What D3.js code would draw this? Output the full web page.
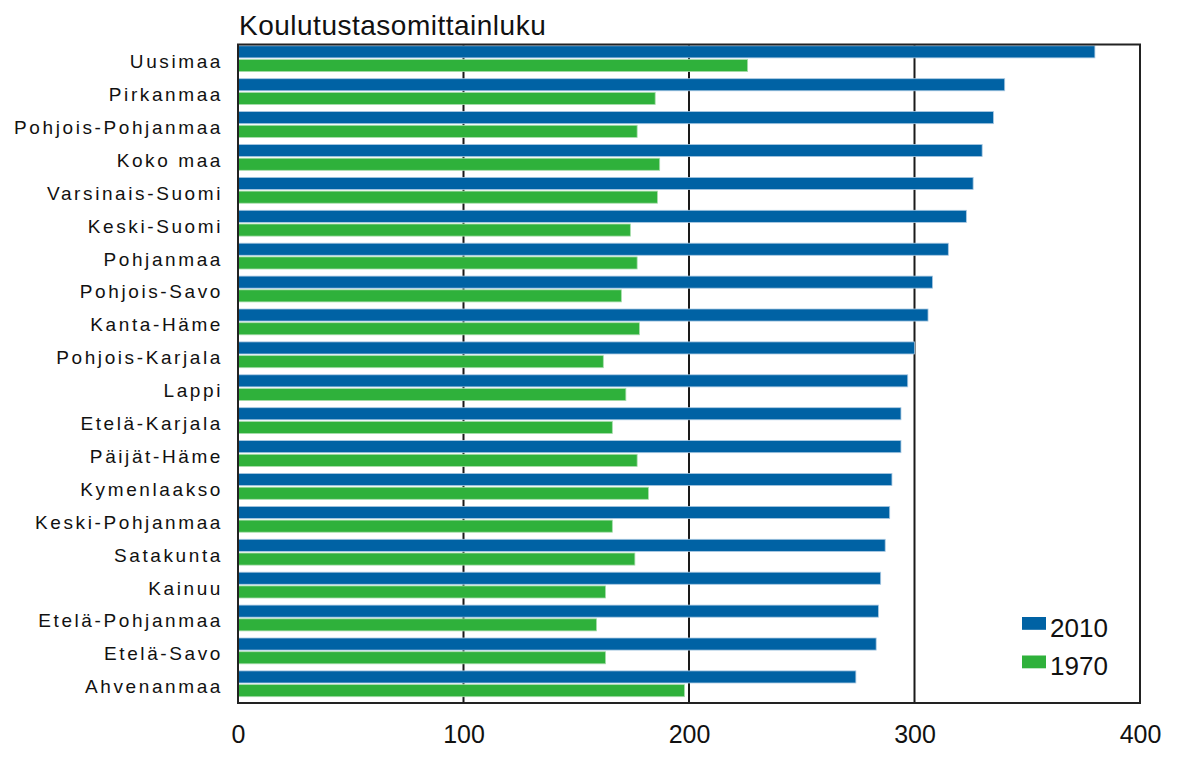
<!DOCTYPE html>
<html>
<head>
<meta charset="utf-8">
<script src="https://cdn.jsdelivr.net/npm/d3@7"></script>
<style>
  html, body { margin: 0; padding: 0; background: #fff; }
  svg { display: block; }
  text { font-family: "Liberation Sans", Arial, sans-serif; fill: #111; }
</style>
</head>
<body>
<svg id="chart" width="1177" height="757"></svg>
<script>
const categories = ["Uusimaa","Pirkanmaa","Pohjois-Pohjanmaa","Koko maa","Varsinais-Suomi","Keski-Suomi","Pohjanmaa","Pohjois-Savo","Kanta-Häme","Pohjois-Karjala","Lappi","Etelä-Karjala","Päijät-Häme","Kymenlaakso","Keski-Pohjanmaa","Satakunta","Kainuu","Etelä-Pohjanmaa","Etelä-Savo","Ahvenanmaa"];
const values2010 = [380,340,335,330,326,323,315,308,306,300,297,294,294,290,289,287,285,284,283,274];
const values1970 = [226,185,177,187,186,174,177,170,178,162,172,166,177,182,166,176,163,159,163,198];
const seriesNames = ["2010","1970"];
const xTicks = [0,100,200,300,400];
const gridTicks = [100,200,300];
const titleText = "Koulutustasomittainluku";

const colors = { "2010": "#0062a4", "1970": "#2fb13b" };
const strokes = { "2010": "#a9c8e2", "1970": "#a8dcac" };

const svg = d3.select("#chart");
const pLeft = 238, pRight = 1140, pTop = 44.5, pBottom = 703;

const x = d3.scaleLinear().domain([0,400]).range([pLeft, pRight]);
const y = d3.scaleBand().domain(categories).range([pTop + 0.5, pBottom]).paddingInner(0).paddingOuter(0);
const ySub = d3.scaleBand().domain(seriesNames).range([0.8, 26.6]).paddingInner(0.12).paddingOuter(0);

// gridlines
svg.append("g").selectAll("line").data(gridTicks).join("line")
  .attr("x1", d => x(d)).attr("x2", d => x(d))
  .attr("y1", pTop).attr("y2", pBottom)
  .attr("stroke", "#1a1a1a").attr("stroke-width", 2);

// bars
const rows = categories.map((c, i) => ({ cat: c, vals: [{s: "2010", v: values2010[i]}, {s: "1970", v: values1970[i]}] }));
const g = svg.append("g").selectAll("g").data(rows).join("g")
  .attr("transform", d => `translate(0,${y(d.cat)})`);
g.selectAll("rect").data(d => d.vals).join("rect")
  .attr("x", x(0))
  .attr("y", d => ySub(d.s))
  .attr("width", d => x(d.v) - x(0))
  .attr("height", ySub.bandwidth())
  .attr("fill", d => colors[d.s])
  .attr("stroke", d => strokes[d.s])
  .attr("stroke-width", 0.8);

// frame
svg.append("rect")
  .attr("x", pLeft).attr("y", pTop)
  .attr("width", pRight - pLeft).attr("height", pBottom - pTop)
  .attr("fill", "none").attr("stroke", "#222").attr("stroke-width", 2);

// category labels
svg.append("g").selectAll("text").data(categories).join("text")
  .attr("x", 223)
  .attr("y", d => y(d) + y.bandwidth() / 2)
  .attr("dy", "0.35em")
  .attr("text-anchor", "end")
  .style("font-size", "19px")
  .style("letter-spacing", "2.6px")
  .text(d => d);

// x axis tick labels
const xAxis = d3.axisBottom(x).tickValues(xTicks).tickSize(0).tickPadding(0).tickFormat(d3.format("d"));
const ax = svg.append("g").attr("transform", `translate(0,${pBottom})`).call(xAxis);
ax.select(".domain").remove();
ax.selectAll("text")
  .attr("y", 40).attr("dy", 0)
  .style("font-size", "25px")
  .style("font-family", "'Liberation Sans', Arial, sans-serif")
  .attr("fill", "#111");

// title
svg.append("text")
  .attr("x", 239).attr("y", 34.5)
  .style("font-size", "28px")
  .style("letter-spacing", "0.5px")
  .text(titleText);

// legend
const legend = svg.append("g").selectAll("g").data(seriesNames).join("g")
  .attr("transform", (d, i) => `translate(1022,${617 + i * 38.5})`);
legend.append("rect")
  .attr("width", 24).attr("height", 12.8)
  .attr("fill", d => colors[d]);
legend.append("text")
  .attr("x", 28).attr("y", 19.5)
  .style("font-size", "26px")
  .text(d => d);
</script>
</body>
</html>
